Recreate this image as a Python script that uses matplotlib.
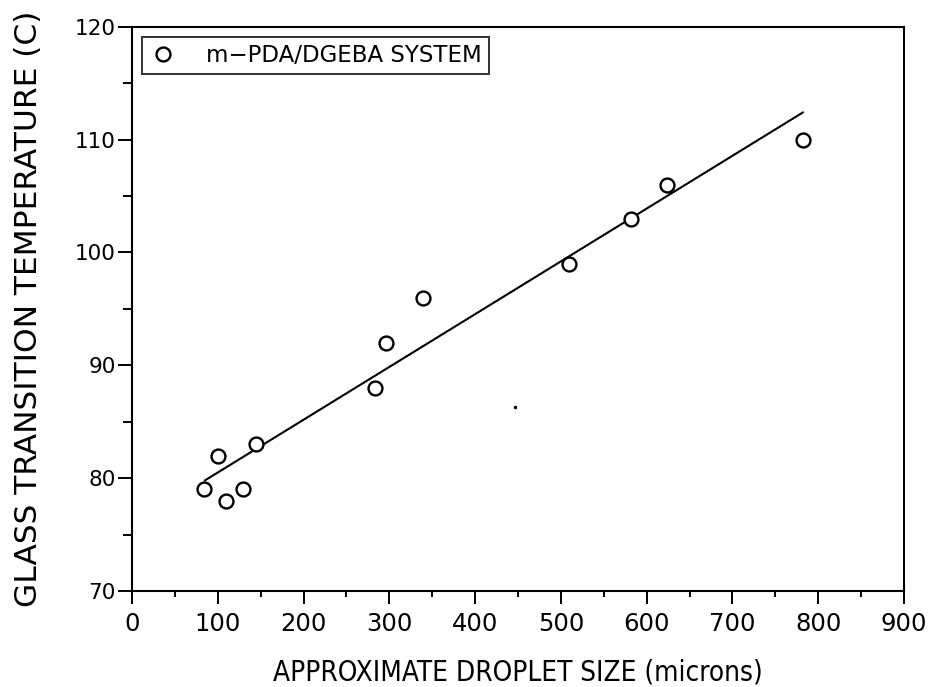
import matplotlib
matplotlib.use("Agg")
import matplotlib.pyplot as plt
from matplotlib.ticker import MultipleLocator

# measured droplet size (microns) vs Tg (C)
droplet_size = [84, 100, 109, 129, 145, 283, 296, 339, 509, 582, 624, 782]
tg_values = [79, 82, 78, 79, 83, 88, 92, 96, 99, 103, 106, 110]

# least-squares line as drawn in the original
fit_x = [85, 782]
fit_y = [79.8, 112.4]

# stray speck on the scanned figure
speck_x = [447]
speck_y = [86.3]

x_ticks = [0, 100, 200, 300, 400, 500, 600, 700, 800, 900]
y_ticks = [70, 80, 90, 100, 110, 120]

fig = plt.figure(figsize=(9.31, 6.87), dpi=100)
ax = fig.add_axes([0.1418, 0.1397, 0.8292, 0.8214])

ax.plot(droplet_size, tg_values, linestyle="none", marker="o", markersize=10,
        markerfacecolor="white", markeredgecolor="black", markeredgewidth=1.7,
        label="m\u2212PDA/DGEBA SYSTEM", zorder=3)
ax.plot(fit_x, fit_y, color="black", linewidth=1.5, zorder=2)
ax.plot(speck_x, speck_y, linestyle="none", marker="o", markersize=1.5,
        color="black")

ax.set_xlim(0, 900)
ax.set_ylim(70, 120)
ax.set_xticks(x_ticks)
ax.set_yticks(y_ticks)
ax.xaxis.set_minor_locator(MultipleLocator(50))
ax.yaxis.set_minor_locator(MultipleLocator(5))

ax.tick_params(axis="both", which="both", direction="out", width=1.4,
               top=False, right=False)
ax.tick_params(axis="x", which="major", length=9, pad=6)
ax.tick_params(axis="x", which="minor", length=4)
ax.tick_params(axis="y", which="major", length=10, pad=1.5)
ax.tick_params(axis="y", which="minor", length=6.5)

for label in ax.get_xticklabels():
    label.set_fontsize(17.5)
    label.set_family("DejaVu Sans")
for label in ax.get_yticklabels():
    label.set_fontsize(15.5)
    label.set_family("DejaVu Sans")

for spine in ax.spines.values():
    spine.set_linewidth(1.5)

ax.set_xlabel("APPROXIMATE DROPLET SIZE (microns)", fontsize=20,
              family="DejaVu Sans", fontstretch="condensed", labelpad=16)
ax.set_ylabel("GLASS TRANSITION TEMPERATURE (C)", fontsize=22.5,
              family="DejaVu Sans", labelpad=23)

leg = ax.legend(loc="upper left", fontsize=16.5, frameon=True, fancybox=False,
                borderaxespad=0.45, handletextpad=1.3, borderpad=0.3,
                handlelength=1.2)
leg.get_frame().set_edgecolor("black")
leg.get_frame().set_linewidth(1.4)

fig.savefig("out.png", dpi=100)
